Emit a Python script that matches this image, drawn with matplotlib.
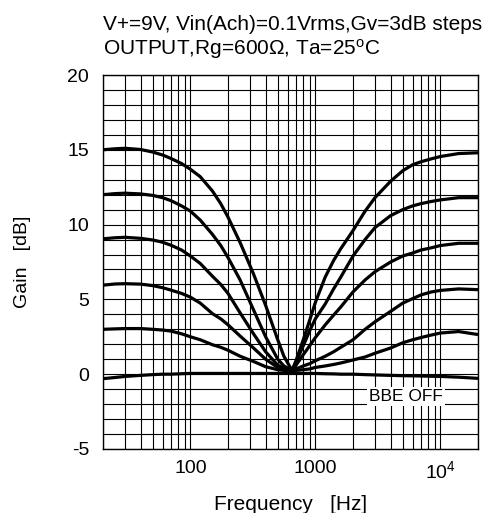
import matplotlib.pyplot as plt
from matplotlib.ticker import FixedLocator, NullFormatter

plt.rcParams['font.family'] = ['Liberation Sans', 'DejaVu Sans']
plt.rcParams['axes.unicode_minus'] = False

# Frequency points (Hz)
freqs = [20, 25, 30, 40, 50, 60, 70, 85, 100, 120, 150, 175, 200, 250, 320, 400, 500, 560, 650,
         700, 800, 900, 1000, 1200, 1400, 1600, 2000, 2500, 3000, 4000, 5000, 6000, 7000,
         8500, 10000, 14000, 20000]

# Gain (dB) for each BBE step
gain_15 = [15.0, 15.07, 15.1, 15.02, 14.85, 14.65, 14.42, 14.08, 13.7, 13.2, 12.25, 11.4, 10.5,
           8.8, 6.7, 4.6, 2.3, 1.2, 0.25,
           0.9, 2.3, 3.6, 4.8, 6.5, 7.6, 8.4, 9.6, 10.9, 11.8, 12.9, 13.6, 14.0, 14.2,
           14.4, 14.55, 14.75, 14.8]
gain_12 = [12.0, 12.07, 12.1, 12.05, 11.95, 11.8, 11.6, 11.25, 10.9, 10.3, 9.35, 8.6, 7.8,
           6.3, 4.3, 2.5, 1.0, 0.55, 0.25,
           0.8, 1.9, 2.9, 3.7, 4.7, 5.7, 6.5, 7.9, 9.0, 9.8, 10.6, 11.0, 11.25, 11.4,
           11.55, 11.65, 11.8, 11.8]
gain_9 = [9.05, 9.12, 9.15, 9.08, 8.97, 8.82, 8.62, 8.3, 7.9, 7.4, 6.55, 6.0, 5.4,
          4.1, 2.7, 1.5, 0.6, 0.4, 0.25,
          0.6, 1.3, 1.9, 2.45, 3.3, 3.95, 4.5, 5.5, 6.3, 6.85, 7.5, 7.9, 8.1, 8.3,
          8.45, 8.6, 8.75, 8.75]
gain_6 = [5.95, 6.03, 6.05, 6.02, 5.92, 5.78, 5.62, 5.4, 5.15, 4.75, 4.05, 3.7, 3.3,
          2.55, 1.75, 1.0, 0.45, 0.3, 0.2,
          0.35, 0.55, 0.7, 0.9, 1.2, 1.5, 1.8, 2.3, 3.0, 3.5, 4.2, 4.75, 5.05, 5.3,
          5.5, 5.6, 5.7, 5.65]
gain_3 = [3.0, 3.03, 3.05, 3.05, 3.0, 2.95, 2.88, 2.7, 2.5, 2.3, 1.97, 1.8, 1.6,
          1.2, 0.85, 0.5, 0.3, 0.25, 0.2,
          0.25, 0.3, 0.35, 0.45, 0.55, 0.65, 0.75, 0.95, 1.15, 1.4, 1.75, 2.1, 2.3, 2.45,
          2.62, 2.75, 2.85, 2.65]
gain_off = [-0.3, -0.22, -0.15, -0.08, -0.03, 0.0, 0.0, 0.03, 0.05, 0.05, 0.05, 0.05, 0.05,
            0.05, 0.05, 0.05, 0.05, 0.05, 0.05,
            0.05, 0.05, 0.05, 0.05, 0.03, 0.02, 0.0, 0.0, -0.03, -0.05, -0.08, -0.1, -0.11, -0.12,
            -0.14, -0.15, -0.2, -0.28]

curves = [gain_15, gain_12, gain_9, gain_6, gain_3, gain_off]

# Grid positions and tick labels
x_major = [100, 1000, 10000]
x_major_labels = ['100', '1000', r'$\mathregular{10^4}$']
x_minor = [m * d for d in (10, 100, 1000, 10000) for m in range(2, 10)]
y_ticks = [-5, 0, 5, 10, 15, 20]

fig = plt.figure(figsize=(4.87, 5.13), dpi=100)
ax = fig.add_axes([0.2115, 0.1248, 0.770, 0.729])

for g in curves:
    ax.plot(freqs, g, color='black', linewidth=2.3, zorder=3,
            solid_joinstyle='round', solid_capstyle='butt')

ax.set_xscale('log')
ax.set_xlim(20, 20000)
ax.set_ylim(-5, 20)

ax.xaxis.set_major_locator(FixedLocator(x_major))
ax.set_xticklabels(x_major_labels)
ax.xaxis.set_minor_locator(FixedLocator(x_minor))
ax.xaxis.set_minor_formatter(NullFormatter())
ax.set_yticks(y_ticks)
ax.yaxis.set_minor_locator(FixedLocator(range(-5, 21)))

ax.grid(which='both', color='black', linewidth=0.8)
ax.tick_params(which='both', length=0, labelsize=14)
ax.tick_params(axis='x', pad=8)
ax.tick_params(axis='y', pad=10)
for s in ax.spines.values():
    s.set_linewidth(1.0)

ax.text(5300, -1.5, 'BBE OFF', fontsize=12.5, ha='center', va='center',
        bbox=dict(facecolor='white', edgecolor='none', pad=1.5), zorder=4)

ax.set_ylabel('Gain   [dB]', fontsize=14, labelpad=26)
fig.text(0.5965, 0.006, 'Frequency   [Hz]', fontsize=15, ha='center', va='baseline')

fig.text(0.2115, 0.953, 'V+=9V, Vin(Ach)=0.1Vrms,Gv=3dB steps', fontsize=15, va='center')
fig.text(0.2115, 0.904, r'OUTPUT,Rg=600Ω, Ta=25$\mathregular{^o}$C', fontsize=15, va='center')

fig.savefig('out.png', dpi=100)
